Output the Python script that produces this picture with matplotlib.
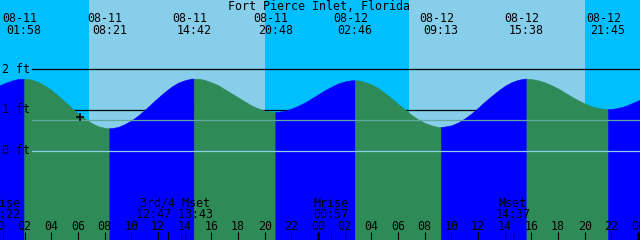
#!/usr/bin/env python3
"""Tide graph for Fort Pierce Inlet, Florida (two days, XTide style)."""
import matplotlib
matplotlib.use("Agg")
import matplotlib.pyplot as plt
from matplotlib.transforms import blended_transform_factory, offset_copy

TITLE = "Fort Pierce Inlet, Florida"

# high / low tide events
tide_dates = ["08-11", "08-11", "08-11", "08-11", "08-12", "08-12", "08-12", "08-12"]
tide_times = ["01:58", "08:21", "14:42", "20:48", "02:46", "09:13", "15:38", "21:45"]
tide_heights = [1.77, 0.55, 1.77, 0.95, 1.73, 0.58, 1.77, 1.02]

# water level (ft) read every half hour, hour 0 = 08-11 00:00
hours = [i / 2 for i in range(98)]
levels = [1.59, 1.66, 1.72, 1.76, 1.77, 1.75, 1.69, 1.60, 1.49, 1.35,
          1.21, 1.06, 0.91, 0.79, 0.68, 0.60, 0.56, 0.55, 0.58, 0.65,
          0.74, 0.86, 1.00, 1.15, 1.30, 1.44, 1.57, 1.67, 1.73, 1.77,
          1.77, 1.74, 1.68, 1.61, 1.51, 1.41, 1.31, 1.21, 1.11, 1.04,
          0.98, 0.96, 0.95, 0.98, 1.03, 1.10, 1.18, 1.28, 1.38, 1.48,
          1.57, 1.65, 1.70, 1.73, 1.73, 1.69, 1.63, 1.54, 1.42, 1.29,
          1.15, 1.02, 0.88, 0.77, 0.68, 0.62, 0.58, 0.59, 0.62, 0.69,
          0.79, 0.91, 1.05, 1.20, 1.34, 1.47, 1.59, 1.68, 1.74, 1.77,
          1.76, 1.73, 1.68, 1.61, 1.53, 1.43, 1.33, 1.24, 1.16, 1.09,
          1.05, 1.02, 1.02, 1.05, 1.09, 1.16, 1.23, 1.32]

# sun (hours from 08-11 00:00)
sunrise = [6.83, 30.85]
sunset = [20.03, 44.03]

# moon events shown under the graph
moon_labels = ["Mrise", "3rd/4 Mset", "Mrise", "Mset"]
moon_label_times = ["00:22", "12:47 13:43", "00:57", "14:37"]
moon_hours = [0.37, 13.25, 24.95, 38.62]
moon_tick_hours = [0.37, 12.78, 13.72, 24.95, 38.62]

depth_lines = [2, 1]
datum_level = 0.0
msl_level = 0.74
now_hour, now_level = 6.15, 0.83

DAY = "#87ceeb"
NIGHT = "#00bfff"
RISE = "#0000ff"
FALL = "#2e8b57"
FONT = "DejaVu Sans Mono"
FS = 8.4


def to_hours(date, hm):
    day = int(date.split("-")[1]) - 11
    h, m = hm.split(":")
    return day * 24 + int(h) + int(m) / 60.0


def main():
    t0, t1 = 0.15, 48.15
    ytop, ybot = 3.707, -2.204

    fig = plt.figure(figsize=(6.4, 2.4), dpi=100)
    ax = fig.add_axes([0, 0, 1, 1])
    ax.set_xlim(t0, t1)
    ax.set_ylim(ybot, ytop)
    ax.axis("off")
    bx = blended_transform_factory(ax.transData, ax.transAxes)
    by = blended_transform_factory(ax.transAxes, ax.transData)

    # sky
    ax.axvspan(t0 - 1, t1 + 1, color=NIGHT, lw=0, zorder=0)
    for a, b in zip(sunrise, sunset):
        ax.axvspan(a, b, color=DAY, lw=0, zorder=0)

    # depth lines behind the water
    for d in depth_lines:
        ax.axhline(d, xmin=32 / 640, color="black", lw=0.9, zorder=1)

    # water, rising blue / falling green
    ext_t = [to_hours(d, t) for d, t in zip(tide_dates, tide_times)]
    pts = sorted(list(zip(hours, levels)) + list(zip(ext_t, tide_heights)))
    bounds = [pts[0][0]] + ext_t + [pts[-1][0]]
    for a, b in zip(bounds[:-1], bounds[1:]):
        seg = [p for p in pts if a <= p[0] <= b]
        ts = [p[0] for p in seg]
        hs = [p[1] for p in seg]
        col = RISE if hs[-1] > hs[0] else FALL
        ax.fill_between(ts, hs, ybot, color=col, lw=0.4, ec=col, zorder=2)

    # datum and mean sea level lines over the water
    ax.axhline(datum_level, xmin=32 / 640, color="#8ccfe6", lw=0.9, zorder=3)
    ax.axhline(msl_level, xmin=32 / 640, color="#5fa89f", lw=0.9, zorder=3)

    ax.plot([now_hour], [now_level], marker="+", ms=6, mew=1.1,
            color="black", zorder=4)

    # depth labels
    for d in [2, 1, 0]:
        ax.text(2 / 640, d - 0.084, f"{d} ft", transform=by, ha="left",
                va="baseline", family=FONT, fontsize=FS, zorder=5)

    ax.text(0.498, 0.958, TITLE, transform=ax.transAxes, ha="center",
            va="baseline", family=FONT, fontsize=FS, zorder=5)

    # tide event labels at top
    date_tr = offset_copy(bx, fig=fig, x=-4.5, y=0, units="dots")
    for t, d, hm in zip(ext_t, tide_dates, tide_times):
        ax.text(t, 0.9096, d, transform=date_tr, ha="center", va="baseline",
                family=FONT, fontsize=FS, zorder=5)
        ax.text(t, 0.857, hm, transform=bx, ha="center", va="baseline",
                family=FONT, fontsize=FS, zorder=5)

    # moon labels at bottom
    for t, lab, hm in zip(moon_hours, moon_labels, moon_label_times):
        ax.text(t, 0.139, lab, transform=bx, ha="center", va="baseline",
                family=FONT, fontsize=FS, zorder=5)
        ax.text(t, 0.0917, hm, transform=bx, ha="center", va="baseline",
                family=FONT, fontsize=FS, zorder=5)

    # hour axis
    for h in range(0, 49, 2):
        ax.text(h, 0.0417, f"{h % 24:02d}", transform=bx, ha="center",
                va="baseline", family=FONT, fontsize=FS, zorder=5)
    even = [h for h in range(0, 49, 2) if h % 24]
    ax.vlines(even, 0, 8 / 240, transform=bx, color="black", lw=0.8, zorder=5)
    ax.vlines(moon_tick_hours, 0, 8 / 240, transform=bx, color="black",
              lw=0.8, zorder=5)
    ax.vlines([0, 24, 48], 0, 8 / 240, transform=bx, color="black",
              lw=2.2, zorder=5)

    fig.savefig("out.png", dpi=100)


if __name__ == "__main__":
    main()
